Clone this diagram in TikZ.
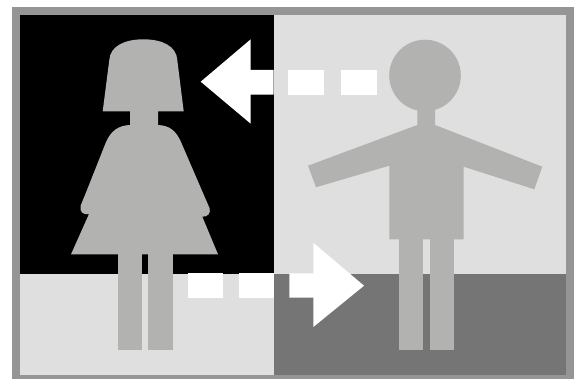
\documentclass[tikz,border=0pt]{standalone}
\definecolor{framegray}{HTML}{959595}
\definecolor{lightgray}{HTML}{DFDFDF}
\definecolor{darkgray}{HTML}{757575}
\definecolor{figgray}{HTML}{B2B2B1}
\tikzset{
  figure/.style={fill=figgray, draw=none},
  pointer/.style={fill=white, draw=none}
}
\begin{document}
\begin{tikzpicture}[x=0.01cm, y=-0.01cm]
\useasboundingbox (0,0) rectangle (580,379);
\fill[framegray] (11.7,6.7) rectangle (573.7,379);
\fill[black] (20,15) rectangle (273.5,273.5);
\fill[lightgray] (273.5,15) rectangle (565.7,273.5);
\fill[lightgray] (20,273.5) rectangle (273.5,375);
\fill[darkgray] (273.5,273.5) rectangle (565.7,375);

\fill[figure] (102.7,111.3) -- (109.3,60) .. controls (110,46) and (125,39.3) .. (143.3,39.3)
  .. controls (162,39.3) and (176.5,46) .. (177.3,60) -- (183.7,111.3) -- (158,111.3) -- (158,125)
  .. controls (170,125.5) and (176,131) .. (181,142) -- (201.7,190) -- (209.5,208)
  .. controls (211,213) and (208,217) .. (202.3,216.7) -- (218,254.3) -- (71,254.3) -- (89,214)
  .. controls (83,215) and (79.5,212) .. (80.5,206) -- (87,190) -- (106,142)
  .. controls (111,131) and (118,125.5) .. (130,125) -- (130,111.3) -- cycle;
\fill[figure] (118,250) rectangle (142.3,349.7);
\fill[figure] (148.3,250) rectangle (172.7,349.7);

\fill[figure] (425,75.5) circle (35.8);
\fill[figure] (417.3,105) -- (435,105) -- (435,125) -- (542.3,166.7) -- (534.3,189.3) -- (463.7,166.7)
  -- (463.7,239.3) -- (389.3,239.3) -- (389.3,165.7) -- (316,187.3) -- (308,165.7) -- (417.3,125) -- cycle;
\fill[figure] (399.3,235) rectangle (423.3,349.7);
\fill[figure] (429.7,235) rectangle (454,349.7);

\fill[pointer] (200.7,81.7) -- (250.7,39.3) -- (250.7,70) -- (273.5,70) -- (273.5,94.7) -- (250.7,94.7) -- (250.7,123.7) -- cycle;
\fill[pointer] (288,70) rectangle (324,94.7);
\fill[pointer] (341,70) rectangle (377,94.7);

\fill[pointer] (188,273.3) rectangle (223,297.7);
\fill[pointer] (239,273.3) rectangle (274,297.7);
\fill[pointer] (289.3,273.3) -- (313.3,273.3) -- (313.3,242.7) -- (364,285.7) -- (313.3,327) -- (313.3,297.7) -- (289.3,297.7) -- cycle;
\end{tikzpicture}
\end{document}
